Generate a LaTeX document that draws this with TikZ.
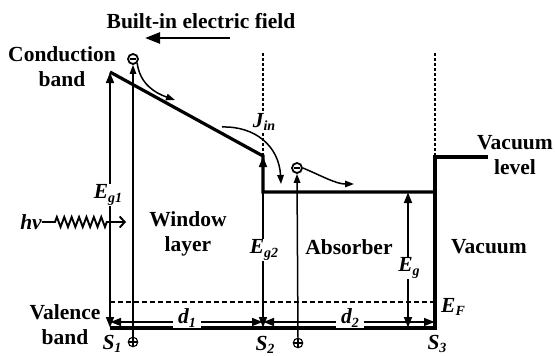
\documentclass[tikz,border=0pt]{standalone}
\usepackage{fontspec}
\setmainfont{Liberation Serif}
\usetikzlibrary{arrows.meta,decorations.pathmorphing}
\newcommand\myfont{\fontsize{21.5}{25}\selectfont\bfseries}
\newcommand\lowsub[1]{\raisebox{-0.35ex}{\fontsize{14}{14}\selectfont #1}}
\begin{document}
\begin{tikzpicture}[x=1pt,y=-1pt,
  txt/.style={font=\myfont, align=center, inner sep=0pt},
  lbl/.style={font=\myfont\itshape, fill=white, inner sep=1pt},
  slbl/.style={font=\myfont\itshape, inner sep=0pt},
  band/.style={line width=3.2pt},
  tipA/.tip={Triangle[length=11pt,width=7.5pt]},
  dimarr/.style={line width=2.8pt, tipA-tipA},
  thinarr/.style={line width=1.5pt, -{Triangle[length=9pt,width=6.5pt]}},
  dotline/.style={line width=2.6pt, dash pattern=on 3pt off 2pt},
  elec/.style={circle, draw, line width=1.8pt, minimum size=10pt, inner sep=0pt,
    path picture={\draw[line width=2.2pt] ([xshift=-3pt]path picture bounding box.center) -- ([xshift=3pt]path picture bounding box.center);}},
  hole/.style={circle, draw, line width=1.1pt, minimum size=9.5pt, inner sep=0pt,
    path picture={\draw[line width=1.1pt] (path picture bounding box.north) -- (path picture bounding box.south) (path picture bounding box.west) -- (path picture bounding box.east);}}
]
\useasboundingbox (0,0) rectangle (555,356);

% key points
\coordinate (cbtop) at (110,72);
\coordinate (cbjn) at (263,156);
\coordinate (abs1) at (263,192);
\coordinate (abs2) at (435,192);
\coordinate (vac1) at (435,157);
\coordinate (vac2) at (488,157);
\coordinate (s1) at (110,328);
\coordinate (s2) at (263,328);
\coordinate (s3) at (435,328);
\coordinate (dtop2) at (263,53);
\coordinate (dtop3) at (435,53);

% bands
\draw[band, line join=miter] (cbtop) -- (cbjn) -- (abs1) -- (abs2);
\draw[band, line join=miter] (vac2) -- (vac1) -- (s3) -- (s1);
\draw[dotline] (dtop2) -- (cbjn);
\draw[dotline] (dtop3) -- (vac1);

% Fermi level
\coordinate (ef1) at (110,302);
\coordinate (ef2) at (435,302);
\draw[line width=2.3pt, dash pattern=on 5pt off 3pt] (ef1) -- (ef2);
\node[slbl] (ef) at (453,307) {E\lowsub{F}};

% energy gap arrows
\draw[dimarr] (cbtop) -- (s1);
\draw[dimarr] (cbjn) -- (s2);
\coordinate (egt) at (408,192);
\coordinate (egb) at (408,328);
\draw[dimarr] (egt) -- (egb);
\node[lbl] (eg1) at (108,195) {E\lowsub{g1}};
\node[lbl] (eg2) at (264,250) {E\lowsub{g2}};
\node[lbl] (eg) at (409,268) {E\lowsub{g}};

% widths
\coordinate (d1a) at (110,322);
\coordinate (d1b) at (263,322);
\coordinate (d2b) at (435,322);
\draw[dimarr] (d1a) -- (d1b);
\draw[dimarr] (d1b) -- (d2b);
\node[lbl, inner xsep=5pt] (d1) at (187,318) {d\lowsub{1}};
\node[lbl, inner xsep=5pt] (d2) at (350,318) {d\lowsub{2}};

% J_in
\node[lbl, inner sep=0.5pt] (jin) at (264,122) {J\lowsub{in}};
\coordinate (ja) at (222,127);
\coordinate (jb) at (281,184);
\draw[thinarr] (ja) .. controls (255,126) and (279,146) .. (jb);

% electrons and holes
\node[elec] (e1) at (133,59) {};
\node[hole] (h1) at (133,342) {};
\draw[thinarr] (h1.north) -- (e1.south);
\node[elec] (e2) at (297,168) {};
\node[hole] (h2) at (298,343) {};
\draw[thinarr] (h2.north) -- (e2.south);
\coordinate (c1b) at (175,100);
\draw[thinarr] (e1.south east) .. controls (140,84) and (155,93) .. (c1b);
\coordinate (c2b) at (354,184);
\draw[thinarr] (e2.east) .. controls (322,176) and (336,184) .. (c2b);

% built-in field
\node[txt] (field) at (201,21) {Built-in electric field};
\coordinate (fa) at (230,38);
\coordinate (fb) at (145,38);
\draw[line width=2.6pt, -{Triangle[length=15pt,width=11pt]}] (fa) -- (fb);

% photon
\node[slbl] (hv) at (31,222) {hv};
\coordinate (z1) at (55,222);
\coordinate (z2) at (107,222);
\coordinate (z3) at (126,222);
\draw[line width=1.9pt] (hv.east) -- (z1)
  decorate[decoration={zigzag,segment length=7.4pt,amplitude=5pt}] {-- (z2)};
\draw[line width=1.9pt, -{Straight Barb[length=5pt,width=11pt]}] (z2) -- (z3);

% labels
\node[txt] (cb) at (62,67) {Conduction\\band};
\node[txt] (vb) at (65,325) {Valence\\band};
\node[txt] (win) at (188,234) {Window\\layer};
\node[txt] (absr) at (349,247) {Absorber};
\node[txt] (vac) at (489,247) {Vacuum};
\node[txt] (vl) at (515,155) {Vacuum\\level};
\node[slbl] (S1) at (112,344) {S\lowsub{1}};
\node[slbl] (S2) at (265,345) {S\lowsub{2}};
\node[slbl] (S3) at (437,344) {S\lowsub{3}};
\end{tikzpicture}
\end{document}
